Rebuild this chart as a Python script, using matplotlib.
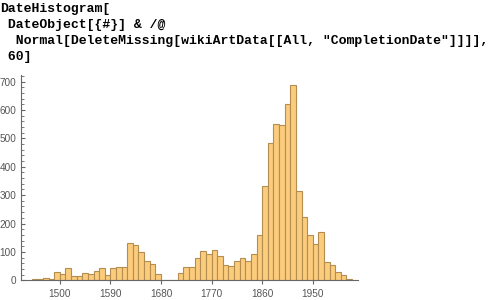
import matplotlib
matplotlib.use("Agg")
import matplotlib.pyplot as plt
from matplotlib.ticker import MultipleLocator

# decade bins (start year) and counts
bin_start = list(range(1450, 2020, 10))
counts = [4, 4, 7, 3, 28, 23, 42, 14, 14, 26,
          21, 32, 42, 18, 42, 46, 46, 130, 123, 99,
          67, 57, 22, 0, 0, 0, 26, 46, 46, 77,
          102, 93, 106, 86, 54, 50, 67, 77, 67, 92,
          158, 332, 483, 550, 546, 621, 688, 313, 223, 158,
          128, 169, 64, 54, 28, 20, 4]
x_ticks = [1500, 1590, 1680, 1770, 1860, 1950]

code_lines = [
    "DateHistogram[",
    " DateObject[{#}] & /@",
    "  Normal[DeleteMissing[wikiArtData[[All, \"CompletionDate\"]]]],",
    " 60]",
]

fig = plt.figure(figsize=(4.9, 3.0), dpi=100)

# input cell text
for i, line in enumerate(code_lines):
    fig.text(0.0, 1 - (9 + 16 * i) / 300, line, family="Liberation Mono",
             weight="bold", fontsize=9.45, va="center", ha="left", color="black")

ax = fig.add_axes([21 / 490, 19.7 / 300, 337.3 / 490, 205.3 / 300])
ax.bar(bin_start, counts, width=10, align="edge", color="#fccc7d",
       edgecolor="#b38e50", linewidth=0.8)

ax.set_xlim(1431, 2031)
ax.set_ylim(0, 723)

axis_col = "#666666"
for s in ["top", "right"]:
    ax.spines[s].set_visible(False)
for s in ["left", "bottom"]:
    ax.spines[s].set_color(axis_col)
    ax.spines[s].set_linewidth(0.8)

ax.set_xticks(x_ticks)
ax.yaxis.set_major_locator(MultipleLocator(100))
ax.yaxis.set_minor_locator(MultipleLocator(20))
ax.tick_params(axis="x", direction="out", length=3, width=0.8, color=axis_col,
               labelcolor="#555555", labelsize=7.2, pad=3)
ax.tick_params(axis="y", which="major", direction="in", length=3, width=0.8,
               color=axis_col, labelcolor="#555555", labelsize=7.2, pad=3.5)
ax.tick_params(axis="y", which="minor", direction="in", length=1.8, width=0.6,
               color=axis_col)
for lab in ax.get_xticklabels() + ax.get_yticklabels():
    lab.set_family("Liberation Sans")

fig.savefig("out.png", dpi=100)
